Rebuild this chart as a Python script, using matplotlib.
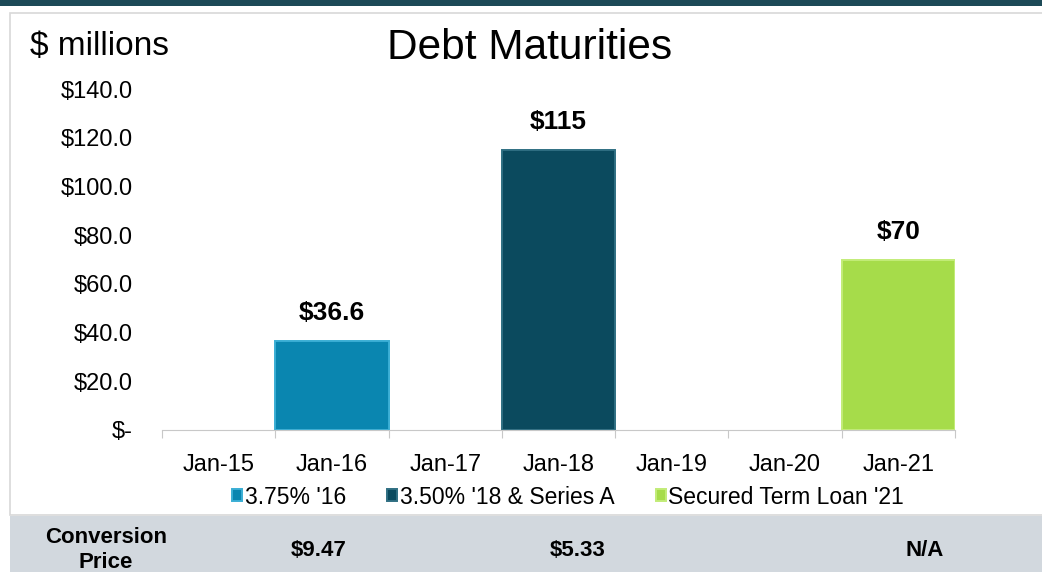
import matplotlib
matplotlib.use("Agg")
import matplotlib.pyplot as plt
from matplotlib.patches import Rectangle

categories = ["Jan-15", "Jan-16", "Jan-17", "Jan-18", "Jan-19", "Jan-20", "Jan-21"]
series_names = ["3.75% '16", "3.50% '18 & Series A", "Secured Term Loan '21"]
series_cats = ["Jan-16", "Jan-18", "Jan-21"]
series_values = [36.6, 115, 70]
bar_labels = ["$36.6", "$115", "$70"]
colors = ["#0a86b0", "#0b4a5e", "#a6dc4a"]
edge_colors = ["#3aaed4", "#2f6f82", "#c2ec78"]
yticks = [0, 20, 40, 60, 80, 100, 120, 140]
ytick_labels = ["$-", "$20.0", "$40.0", "$60.0", "$80.0", "$100.0", "$120.0", "$140.0"]
conv_prices = ["$9.47", "$5.33", "N/A"]

W, H = 1042, 572
plt.rcParams["font.family"] = ["Liberation Sans", "DejaVu Sans"]
fig = plt.figure(figsize=(W / 100, H / 100), dpi=100)


def fx(px):
    return px / W


def fy(py):
    return 1 - py / H


# background pieces (behind the axes)
fig.patches.append(Rectangle((0, fy(6)), 1, fy(0) - fy(6), transform=fig.transFigure,
                             facecolor="#1d4a57", edgecolor="none", zorder=-5))
fig.patches.append(Rectangle((fx(10), fy(515)), 1, fy(13) - fy(515), transform=fig.transFigure,
                             facecolor="white", edgecolor="#d8d8d8", linewidth=1.2, zorder=-5))
fig.patches.append(Rectangle((fx(10), 0), 1, fy(516), transform=fig.transFigure,
                             facecolor="#d2d8de", edgecolor="none", zorder=-4))

ax = fig.add_axes([fx(162), fy(430), fx(955) - fx(162), fy(89) - fy(430)])
ax.set_facecolor("none")
x = list(range(len(categories)))
for name, cat, val, lab, col, ec in zip(series_names, series_cats, series_values,
                                        bar_labels, colors, edge_colors):
    i = categories.index(cat)
    ax.bar(i, val, width=1.0, color=col, edgecolor=ec, linewidth=1.4, label=name)
    ax.text(i, val + 6.5, lab, ha="center", va="bottom", fontsize=19, fontweight="bold")

ax.set_xlim(-0.5, len(categories) - 0.5)
ax.set_ylim(0, 140)
ax.set_xticks([i - 0.5 for i in range(len(categories) + 1)])
ax.set_xticklabels([])
ax.set_xticks(x, minor=True)
ax.set_xticklabels(categories, minor=True, fontsize=17)
ax.tick_params(axis="x", which="major", length=6, color="#c8c8c8", direction="out")
ax.tick_params(axis="x", which="minor", length=0, pad=17)
ax.set_yticks(yticks)
ax.set_yticklabels(ytick_labels, fontsize=17)
ax.tick_params(axis="y", length=0, pad=21)
for s in ["top", "right", "left"]:
    ax.spines[s].set_visible(False)
ax.spines["bottom"].set_color("#c8c8c8")

fig.legend(loc="center", bbox_to_anchor=(fx(568), fy(497)), ncol=3, frameon=False,
           fontsize=16.5, handlelength=0.45, handleheight=0.45, handletextpad=0.1,
           columnspacing=1.8)

fig.text(fx(30), fy(47), "$ millions", fontsize=24, va="center", ha="left")
fig.text(fx(530), fy(48), "Debt Maturities", fontsize=30.5, va="center", ha="center")

fig.text(fx(106), fy(550), "Conversion\nPrice", fontsize=16, fontweight="bold",
         ha="center", va="center", linespacing=1.2)
for cx, p in zip([319, 578, 925], conv_prices):
    fig.text(fx(cx), fy(550), p, fontsize=16, fontweight="bold", ha="center", va="center")

fig.savefig("out.png", dpi=100)
